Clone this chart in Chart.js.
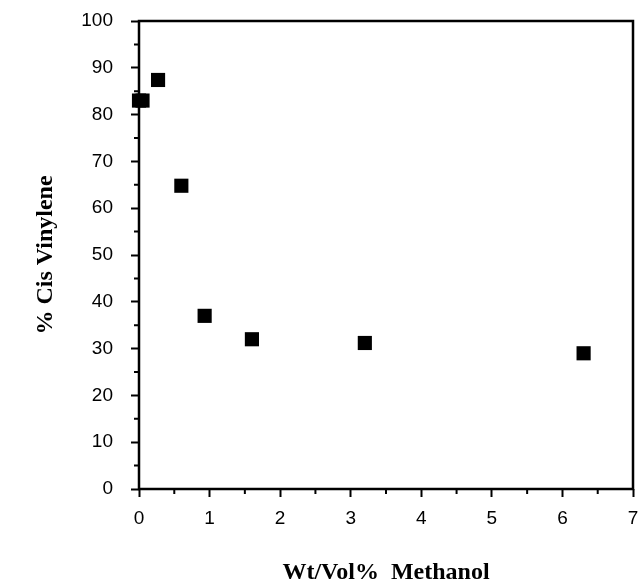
<!DOCTYPE html>
<html>
<head>
<meta charset="utf-8">
<script src="https://cdn.jsdelivr.net/npm/chart.js@4"></script>
<style>
    html, body { margin: 0; padding: 0; background: #fff; }
    #wrap { width: 643px; height: 587px; }
</style>
</head>
<body>
<div id="wrap"><canvas id="graph"></canvas></div>
<script>
const methanol = [0, 0.05, 0.27, 0.6, 0.93, 1.6, 3.2, 6.3];
const cisVinylene = [83, 83, 87.4, 64.8, 37, 32, 31.2, 29];
const xTicks = [0, 1, 2, 3, 4, 5, 6, 7];
const yTicks = [0, 10, 20, 30, 40, 50, 60, 70, 80, 90, 100];

const points = methanol.map((x, i) => ({x: x, y: cisVinylene[i]}));

// box around the plot + short minor ticks at the half steps
const frame = {
    id: "frame",
    afterDraw(chart) {
        const {ctx, chartArea: a, scales} = chart;
        ctx.save();
        ctx.strokeStyle = "#000";
        ctx.lineWidth = 2.5;
        ctx.strokeRect(a.left, a.top, a.right - a.left, a.bottom - a.top);
        ctx.lineWidth = 2;
        ctx.beginPath();
        for (let v = 0.5; v < 7; v += 1) {
            const px = scales.x.getPixelForValue(v);
            ctx.moveTo(px, a.bottom);
            ctx.lineTo(px, a.bottom + 5);
        }
        for (let v = 5; v < 100; v += 10) {
            const py = scales.y.getPixelForValue(v);
            ctx.moveTo(a.left, py);
            ctx.lineTo(a.left - 5, py);
        }
        ctx.stroke();
        ctx.restore();
    }
};

const canvas = document.querySelector("#graph");
new Chart(canvas, {
    type: "scatter",
    data: {
        datasets: [{
            label: "% Cis Vinylene",
            data: points,
            pointStyle: "rect",
            pointRadius: 10,
            backgroundColor: "#000",
            borderColor: "#000",
            borderWidth: 0,
            clip: false
        }]
    },
    options: {
        animation: false,
        responsive: true,
        maintainAspectRatio: false,
        layout: {padding: {top: 21, right: -4, left: 0, bottom: 0}},
        plugins: {legend: {display: false}, tooltip: {enabled: false}},
        scales: {
            x: {
                type: "linear",
                min: 0,
                max: 7,
                afterBuildTicks: scale => { scale.ticks = xTicks.map(v => ({value: v})); },
                afterFit: scale => {
                    scale.height = 98;
                    scale.paddingLeft = 0;
                    scale.paddingRight = 0;
                },
                border: {display: false},
                grid: {drawOnChartArea: false, drawTicks: true, tickLength: 8, tickWidth: 2, tickColor: "#000"},
                ticks: {color: "#000", padding: 10, font: {family: "Liberation Sans", size: 19}},
                title: {
                    display: true,
                    text: "Wt/Vol%  Methanol",
                    color: "#000",
                    padding: 0,
                    font: {family: "Liberation Serif", size: 24, weight: "bold"}
                }
            },
            y: {
                type: "linear",
                min: 0,
                max: 100,
                afterBuildTicks: scale => { scale.ticks = yTicks.map(v => ({value: v})); },
                afterFit: scale => {
                    scale.width = 139;
                    scale.paddingTop = 0;
                    scale.paddingBottom = 0;
                },
                border: {display: false},
                grid: {drawOnChartArea: false, drawTicks: true, tickLength: 8, tickWidth: 2, tickColor: "#000"},
                ticks: {color: "#000", padding: 18, font: {family: "Liberation Sans", size: 19}},
                title: {
                    display: true,
                    text: "% Cis Vinylene",
                    color: "#000",
                    padding: {top: 31, bottom: 0},
                    font: {family: "Liberation Serif", size: 24, weight: "bold"}
                }
            }
        }
    },
    plugins: [frame]
});
</script>
</body>
</html>
